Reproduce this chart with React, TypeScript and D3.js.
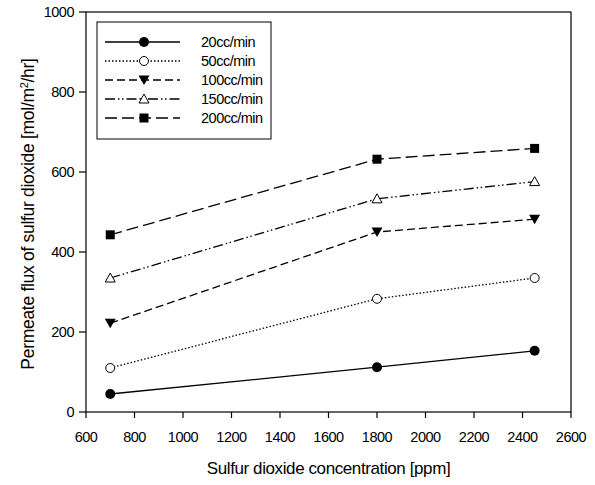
import React from "react";
import * as d3 from "d3";

const xValues = [700, 1800, 2450];
const seriesNames = ["20cc/min", "50cc/min", "100cc/min", "150cc/min", "200cc/min"];
const s20 = [45, 112, 153];
const s50 = [110, 283, 335];
const s100 = [222, 450, 482];
const s150 = [335, 533, 576];
const s200 = [443, 632, 659];
const xTicks = [600, 800, 1000, 1200, 1400, 1600, 1800, 2000, 2200, 2400, 2600];
const yTicks = [0, 200, 400, 600, 800, 1000];

const seriesValues = [s20, s50, s100, s150, s200];
const dashes = ["none", "1.5,2", "8,4", "10,3,1.5,2.5,1.5,3", "12,5"];
const markers = ["circle", "circleOpen", "triDown", "triUp", "square"];

const W = 595, H = 485;
const L = 86, R = 571, T = 12, B = 412;

function Marker({ type, x, y }: { type: string; x: number; y: number }) {
  const r = 5;
  if (type === "circle") return <circle cx={x} cy={y} r={r} fill="#000" />;
  if (type === "circleOpen") return <circle cx={x} cy={y} r={4.5} fill="#fff" stroke="#000" strokeWidth={1} />;
  if (type === "triDown")
    return <path d={`M${x - 5.5},${y - 4.5}L${x + 5.5},${y - 4.5}L${x},${y + 5}Z`} fill="#000" />;
  if (type === "triUp")
    return <path d={`M${x},${y - 5}L${x + 5},${y + 4}L${x - 5},${y + 4}Z`} fill="#fff" stroke="#000" strokeWidth={1} />;
  return <rect x={x - 4.5} y={y - 4.5} width={9} height={9} fill="#000" />;
}

export default function App() {
  const x = d3.scaleLinear().domain([600, 2600]).range([L, R]);
  const y = d3.scaleLinear().domain([0, 1000]).range([B, T]);
  const line = d3.line<number>().x((_, i) => x(xValues[i])).y((d) => y(d));
  const font = "'Liberation Sans', Arial, sans-serif";

  const legX0 = 105, legX1 = 180, legMX = 144, legTX = 201;
  const legY = [42, 61, 80, 99, 118];

  return (
    <svg width={W} height={H} style={{ position: "absolute", left: 0, top: 0, background: "#fff" }} fontFamily={font}>
      <rect x={0} y={0} width={W} height={H} fill="#fff" />
      {/* frame */}
      <rect x={L} y={T} width={R - L} height={B - T} fill="none" stroke="#000" strokeWidth={1.2} />
      {/* x ticks */}
      {xTicks.map((t) => (
        <g key={"x" + t}>
          <line x1={x(t)} x2={x(t)} y1={B} y2={B + 6} stroke="#000" strokeWidth={1.2} />
          <text x={x(t)} y={B + 30} fontSize={14.5} textAnchor="middle" letterSpacing={-0.5}>{t}</text>
        </g>
      ))}
      {yTicks.map((t) => (
        <g key={"y" + t}>
          <line x1={L - 7} x2={L} y1={y(t)} y2={y(t)} stroke="#000" strokeWidth={1.2} />
          <text x={L - 12} y={y(t) + 5} fontSize={14.5} textAnchor="end" letterSpacing={-0.5}>{t}</text>
        </g>
      ))}
      <text x={(L + R) / 2} y={474} fontSize={17} textAnchor="middle" letterSpacing={-0.4}>
        Sulfur dioxide concentration [ppm]
      </text>
      <text transform={`translate(34, ${(T + B) / 2 + 2}) rotate(-90)`} fontSize={17.5} textAnchor="middle" letterSpacing={-0.3}>
        Permeate flux of sulfur dioxide [mol/m<tspan dy={-6} fontSize={11}>2</tspan><tspan dy={6}>/hr]</tspan>
      </text>
      {/* series */}
      {seriesValues.map((vals, i) => (
        <g key={"s" + i}>
          <path d={line(vals) || ""} fill="none" stroke="#000" strokeWidth={1.3} strokeDasharray={dashes[i]} />
          {vals.map((v, j) => (
            <Marker key={j} type={markers[i]} x={x(xValues[j])} y={y(v)} />
          ))}
        </g>
      ))}
      {/* legend */}
      <rect x={97} y={22} width={174} height={117} fill="#fff" stroke="#000" strokeWidth={1} />
      {seriesNames.map((n, i) => (
        <g key={"l" + i}>
          <line x1={legX0} x2={legX1} y1={legY[i]} y2={legY[i]} stroke="#000" strokeWidth={1.3} strokeDasharray={dashes[i]} />
          <Marker type={markers[i]} x={legMX} y={legY[i]} />
          <text x={legTX} y={legY[i] + 5} fontSize={14.5} letterSpacing={-0.5}>{n}</text>
        </g>
      ))}
    </svg>
  );
}
